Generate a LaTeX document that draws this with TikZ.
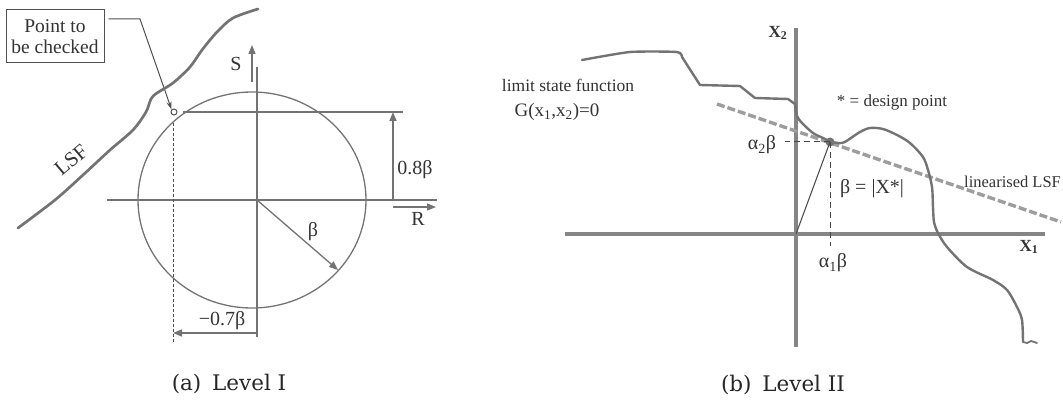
\documentclass[tikz,border=0pt]{standalone}
\usepackage{fontspec}
\newfontfamily\tms{Liberation Serif}
\newfontfamily\capf{DejaVu Serif}
\usetikzlibrary{arrows.meta}
\definecolor{ln}{gray}{0.45}
\definecolor{lnr}{gray}{0.52}
\definecolor{tx}{gray}{0.2}
\begin{document}
\begin{tikzpicture}[x=1pt,y=-1pt,
  axl/.style={draw=ln,line width=1.7pt},
  circ/.style={draw=ln,line width=1.3pt},
  lsfl/.style={draw=ln,line width=2.7pt,line join=round,line cap=round},
  arr/.style={draw=ln,line width=1.6pt,-{Triangle[length=9pt,width=7pt]}},
  thinarr/.style={draw=ln!70!black,line width=1pt,-{Stealth[length=8pt,width=5pt]}},
  dotl/.style={draw=ln!70!black,line width=0.9pt,dash pattern=on 3pt off 2pt},
  axr/.style={draw=lnr,line width=4pt},
  lsfr/.style={draw=ln,line width=2.4pt,line join=round,line cap=round},
  lin/.style={draw=lnr!80,line width=3.4pt,dash pattern=on 8pt off 3pt},
  thd/.style={draw=ln!60!black,line width=1pt,dash pattern=on 6pt off 4pt},
  lbl/.style={text=tx,inner sep=0pt,font=\tms\fontsize{#1}{#1}\selectfont},
  lbl/.default=20,
  captext/.style={text=black!85,inner sep=0pt,font=\capf\fontsize{21.5}{24}\selectfont}
]
\useasboundingbox (0,0) rectangle (1063,401);

% ---------------- (a) Level I ----------------
\coordinate (O) at (257,200);
\draw[circ] (252,200) ellipse [x radius=114, y radius=108];
\draw[axl] (107,200) -- (437,200);
\draw[axl] (257,67) -- (257,337);
% S and R arrows
\coordinate (Sa) at (252,82); \coordinate (Sb) at (252,45);
\draw[arr,line width=1.3pt] (Sa) -- (Sb);
\node[lbl] (S) at (236,64) {S};
\coordinate (Ra) at (393,207); \coordinate (Rb) at (436,207);
\draw[arr,line width=1.3pt] (Ra) -- (Rb);
\node[lbl] (R) at (418,219) {R};
% point to be checked
\node[circle,draw=ln!70!black,line width=1pt,minimum size=6pt,inner sep=0pt] (P) at (174,112) {};
\coordinate (H2) at (403,112);
\draw[axl,line width=1.4pt] (P.east) ++(5,0) -- (H2);
% 0.8 beta
\coordinate (Ha) at (393,200); \coordinate (Hb) at (393,112);
\draw[arr] (Ha) -- (Hb);
\node[lbl] (h08) at (415,170) {0.8β};
% dashed vertical
\coordinate (Dv) at (173,343);
\draw[dotl] (P.south) ++(-1,8) -- (Dv);
% -0.7 beta
\coordinate (Ma) at (257,333); \coordinate (Mb) at (173,333);
\draw[arr] (Ma) -- (Mb);
\node[lbl] (m07) at (222,321) {−0.7β};
% beta radius
\coordinate (Bt) at (338,270);
\draw[arr,line width=1.3pt] (O) -- (Bt);
\node[lbl] (bl) at (313,232) {β};
% box
\node[draw=ln!70!black,line width=1pt,minimum width=98pt,minimum height=53pt,align=center,lbl=19.5,inner sep=2pt,text=tx] (box) at (55,36.5) {Point to\\[1pt]be checked};
\coordinate (K1) at (140,19);
\draw[thinarr] (box.east |- K1) ++(4,0) -- (K1) -- (P.north west);
% LSF
\draw[lsfl] plot[smooth,tension=0.5] coordinates {(18,228) (55,200) (83,175) (110,150) (133,130) (146,112) (151,99) (157,93) (173,83) (190,67) (202,50) (217,32) (233,18) (258,9)};
\node[lbl=21,rotate=40] (lsf) at (71,160) {LSF};
\node[captext] (capa) at (229,384) {(a)\enspace Level I};

% ---------------- (b) Level II ----------------
\coordinate (O2) at (796,234);
\coordinate (X1a) at (565,234); \coordinate (X1b) at (1045,234);
\coordinate (X2a) at (796,28); \coordinate (X2b) at (796,347);
\draw[axr] (X1a) -- (X1b);
\draw[axr] (X2a) -- (X2b);
\node[lbl=17,font=\tms\bfseries\fontsize{17}{17}\selectfont] (x1) at (1029,247) {X\textsubscript{1}};
\node[lbl=17,font=\tms\bfseries\fontsize{17}{17}\selectfont] (x2) at (778,33) {X\textsubscript{2}};
% linearised LSF
\coordinate (La) at (717,104); \coordinate (Lb) at (1061,222);
\draw[lin] (La) -- (Lb);
% LSF curve
\draw[lsfr] plot[smooth,tension=0.35] coordinates {(582,60) (630,52) (677,52) (682,57)};
\draw[lsfr] (682,57) -- (700,85) -- (740,86) -- (755,98) -- (788,99) -- (795,104);
\draw[lsfr] plot[smooth,tension=0.5] coordinates {(795,104) (797,116) (802,123) (813,133) (823,138) (832,142) (842,143) (848,140) (860,132) (870,128) (883,129) (897,135) (910,143) (923,157) (928,170) (932,187) (933,207) (934,222) (938,233) (947,247) (967,267) (993,280) (1007,290) (1017,307) (1022,320) (1023,342)};
\draw[lsfr,line width=1.8pt] (1023,342) -- (1027,343) -- (1031,341) -- (1037,343);
% design point
\node[circle,fill=ln,minimum size=9pt,inner sep=0pt] (dp) at (830,142) {};
\coordinate (T1) at (830,246); \coordinate (T2) at (785,142);
\draw[thd] (dp.center) -- (T1);
\draw[thd] (dp.center) -- (T2);
\draw[draw=ln!70!black,line width=1.1pt] (O2) -- (dp.center);
\node[lbl] (a1) at (833,263) {α\textsubscript{1}β};
\node[lbl] (a2) at (762,145) {α\textsubscript{2}β};
\node[lbl=20] (bx) at (872,189) {β = |X*|};
\node[lbl=17] (dpl) at (892,102) {* = design point};
\node[lbl=16.5,anchor=west] (linl) at (964,182) {linearised LSF};
\node[lbl=17.5] (lsft) at (568,85) {limit state function};
\node[lbl=19] (gx) at (557,112) {G(x\textsubscript{1},x\textsubscript{2})=0};
\node[captext] (capb) at (783,385) {(b)\enspace Level II};
\end{tikzpicture}
\end{document}
